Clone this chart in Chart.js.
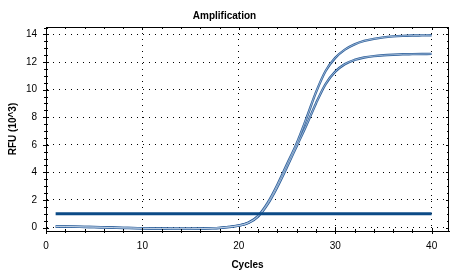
<!DOCTYPE html>
<html>
<head>
<meta charset="utf-8">
<title>Amplification</title>
<script src="https://cdn.jsdelivr.net/npm/chart.js@4/dist/chart.umd.min.js"></script>
<style>
  html, body { margin: 0; padding: 0; background: #fff; }
  #wrap { width: 464px; height: 276px; }
</style>
</head>
<body>
<div id="wrap"><canvas id="ampChart" width="464" height="276"></canvas></div>
<script>
// cycle numbers and RFU readings (x 10^3) for the two wells
const cycles = [1, 2, 3, 4, 5, 6, 7, 8, 9, 10, 11, 12, 13, 14, 15, 16, 17, 18, 19, 20,
                21, 22, 23, 24, 25, 26, 27, 28, 29, 30, 31, 32, 33, 34, 35, 36, 37, 38, 39, 40];
const wellA = [0.08, 0.08, 0.07, 0.05, 0.04, 0.02, 0.00, -0.02, -0.03, -0.05,
               -0.06, -0.07, -0.08, -0.08, -0.08, -0.07, -0.05, -0.02, 0.05, 0.15,
               0.36, 0.85, 1.80, 3.10, 4.60, 6.10, 7.90, 9.80, 11.35, 12.30,
               12.90, 13.28, 13.53, 13.68, 13.79, 13.86, 13.90, 13.92, 13.93, 13.94];
const wellB = [0.07, 0.07, 0.06, 0.04, 0.03, 0.01, -0.01, -0.03, -0.04, -0.06,
               -0.07, -0.08, -0.09, -0.09, -0.09, -0.08, -0.06, -0.03, 0.04, 0.14,
               0.34, 0.80, 1.70, 2.95, 4.40, 5.90, 7.40, 9.00, 10.40, 11.30,
               11.85, 12.15, 12.33, 12.43, 12.49, 12.53, 12.56, 12.57, 12.58, 12.59];
const threshold = 1.0;

const xTicks = [0, 10, 20, 30, 40];
const yTicks = [0, 2, 4, 6, 8, 10, 12, 14];

const FONT = "'Liberation Sans', Arial, sans-serif";

function toPoints(ys) {
    return cycles.map((c, i) => ({ x: c, y: ys[i] }));
}

// a curve is drawn as a blue stroke with a pale core, like the instrument plot
function curve(label, ys, color, width) {
    return {
        label: label,
        data: toPoints(ys),
        borderColor: color,
        borderWidth: width,
        pointRadius: 0,
        cubicInterpolationMode: 'monotone'
    };
}

// frame on all four sides plus the small tick marks
const frameTicks = {
    id: 'frameTicks',
    afterDraw(chart) {
        const { ctx, chartArea: a, scales: { x, y } } = chart;
        ctx.save();
        ctx.strokeStyle = '#000';
        ctx.lineWidth = 1;
        ctx.strokeRect(Math.round(a.left) + 0.5, Math.round(a.top) + 0.5,
                       Math.round(a.right - a.left) - 1, Math.round(a.bottom - a.top));
        ctx.beginPath();
        for (let v = 0; v <= x.max; v += 2) {
            const px = Math.round(x.getPixelForValue(v)) + 0.5;
            const major = v % 10 === 0;
            const len = major ? 3 : 2;
            ctx.moveTo(px, a.bottom - len); ctx.lineTo(px, a.bottom + len);
            ctx.moveTo(px, a.top); ctx.lineTo(px, a.top + len);
        }
        for (let v = 0; v <= y.max; v += 0.5) {
            const py = Math.round(y.getPixelForValue(v)) + 0.5;
            const major = v % 2 === 0;
            const len = major ? 3 : 2;
            ctx.moveTo(a.left - len, py); ctx.lineTo(a.left + len, py);
            ctx.moveTo(a.right - len, py); ctx.lineTo(a.right, py);
        }
        ctx.stroke();
        ctx.restore();
    }
};

const ctx = document.getElementById('ampChart').getContext('2d');
new Chart(ctx, {
    type: 'line',
    data: {
        datasets: [
            {
                label: 'Threshold',
                data: [{ x: cycles[0], y: threshold }, { x: cycles[cycles.length - 1], y: threshold }],
                borderColor: '#0b4a86',
                borderWidth: 3,
                pointRadius: 0
            },
            curve('Well A core', wellA, 'rgba(225,235,246,0.75)', 0.8),
            curve('Well B core', wellB, 'rgba(225,235,246,0.75)', 0.8),
            curve('Well A', wellA, '#2f619c', 2.4),
            curve('Well B', wellB, '#2f619c', 2.4)
        ]
    },
    options: {
        responsive: false,
        animation: false,
        devicePixelRatio: 1,
        layout: { padding: { left: 0, right: 15, top: 0, bottom: 0 } },
        plugins: {
            legend: { display: false },
            tooltip: { enabled: false },
            title: {
                display: true,
                text: 'Amplification',
                color: '#000',
                font: { family: FONT, size: 10, weight: 'bold' },
                padding: { top: 10, bottom: 5 }
            }
        },
        scales: {
            x: {
                type: 'linear',
                min: 0,
                max: 41.8,
                afterBuildTicks: s => { s.ticks = xTicks.map(v => ({ value: v })); },
                afterFit: s => { s.height = 45; },
                ticks: { color: '#000', padding: 9, font: { family: FONT, size: 10 } },
                grid: { color: '#000', lineWidth: 1, drawTicks: false },
                border: { color: '#000', width: 1, dash: [1, 5] },
                title: {
                    display: true,
                    text: 'Cycles',
                    color: '#000',
                    font: { family: FONT, size: 10, weight: 'bold' },
                    padding: { top: 0, bottom: 5 }
                }
            },
            y: {
                min: -0.25,
                max: 14.54,
                afterBuildTicks: s => { s.ticks = yTicks.map(v => ({ value: v })); },
                afterFit: s => { s.width = 46; },
                ticks: { color: '#000', padding: 9, font: { family: FONT, size: 10 } },
                grid: { color: '#000', lineWidth: 1, drawTicks: false },
                border: { color: '#000', width: 1, dash: [1, 5] },
                title: {
                    display: true,
                    text: 'RFU (10^3)',
                    color: '#000',
                    font: { family: FONT, size: 10, weight: 'bold' },
                    padding: { top: 7, bottom: 0 }
                }
            }
        }
    },
    plugins: [frameTicks]
});
</script>
</body>
</html>
